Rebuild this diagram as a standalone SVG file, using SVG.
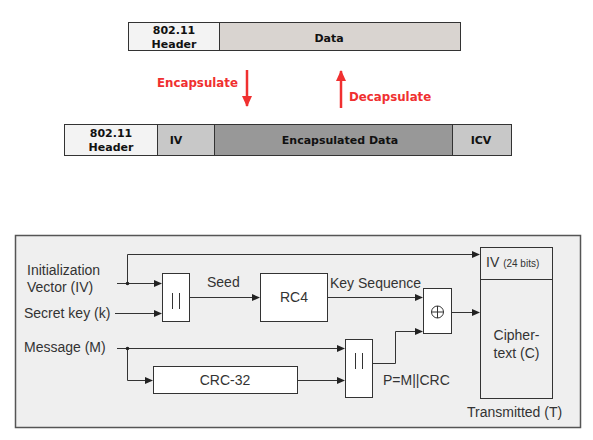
<svg xmlns="http://www.w3.org/2000/svg" width="593" height="440" viewBox="0 0 593 440">
<defs>
<style>
.hb{font-family:"DejaVu Sans",sans-serif;font-weight:bold;font-size:11px;fill:#111;text-anchor:middle}
.red{font-family:"DejaVu Sans",sans-serif;font-weight:bold;font-size:11.8px;fill:#f03030}
.t{font-family:"Liberation Sans",Arial,sans-serif;font-size:14px;fill:#333}
.box{stroke:#333;stroke-width:1}
.ln{stroke:#333;stroke-width:1;fill:none}
</style>
<marker id="ah" markerWidth="8" markerHeight="8" refX="7" refY="4" orient="auto" markerUnits="userSpaceOnUse">
<path d="M0,0.5 L8,4 L0,7.5 Z" fill="#222"/>
</marker>
<marker id="rah" markerWidth="12" markerHeight="12" refX="10" refY="5" orient="auto" markerUnits="userSpaceOnUse">
<path d="M0,0 L11,5 L0,10 Z" fill="#f03030"/>
</marker>
</defs>
<rect width="593" height="440" fill="#fff"/>

<g id="frame-top">
<rect x="128.5" y="22.5" width="91" height="28" fill="#f3f3f3" class="box"/>
<rect x="219.5" y="22.5" width="241" height="28" fill="#d9d4d0" class="box"/>
<text class="hb" x="174" y="34">802.11</text>
<text class="hb" x="174" y="48">Header</text>
<text class="hb" x="329" y="42">Data</text>
</g>

<g id="frame-bottom">
<rect x="64.5" y="124.5" width="93" height="31" fill="#f3f3f3" class="box"/>
<rect x="157.5" y="124.5" width="57" height="31" fill="#c8c8c8" class="box"/>
<rect x="214.5" y="124.5" width="238" height="31" fill="#989898" class="box"/>
<rect x="452.5" y="124.5" width="59" height="31" fill="#c8c8c8" class="box"/>
<text class="hb" x="111" y="137">802.11</text>
<text class="hb" x="111" y="151">Header</text>
<text class="hb" x="176" y="144">IV</text>
<text class="hb" x="340" y="144">Encapsulated Data</text>
<text class="hb" x="481" y="144">ICV</text>
</g>

<g id="red-arrows">
<line x1="247" y1="70" x2="247" y2="106" stroke="#f03030" stroke-width="2.5" marker-end="url(#rah)"/>
<line x1="341" y1="108" x2="341" y2="71" stroke="#f03030" stroke-width="2.5" marker-end="url(#rah)"/>
<text class="red" x="157" y="87">Encapsulate</text>
<text class="red" x="349" y="101">Decapsulate</text>
</g>

<rect id="panel" x="15.5" y="235.5" width="565" height="192" fill="#efefef" stroke="#555" stroke-width="1.5"/>

<g id="labels">
<text class="t" x="27" y="275">Initialization</text>
<text class="t" x="27" y="292">Vector (IV)</text>
<text class="t" x="24" y="318">Secret key (k)</text>
<text class="t" x="24" y="352">Message (M)</text>
<text class="t" x="207" y="287">Seed</text>
<text class="t" x="330" y="288">Key Sequence</text>
<text class="t" x="383" y="385">P=M||CRC</text>
<text class="t" x="467" y="417">Transmitted (T)</text>
</g>

<g id="concat1">
<rect x="162.5" y="273.5" width="27" height="48" fill="#fff" class="box"/>
<line x1="172.5" y1="293" x2="172.5" y2="309" class="ln"/>
<line x1="179.5" y1="293" x2="179.5" y2="309" class="ln"/>
</g>

<g id="rc4">
<rect x="260.5" y="273.5" width="67" height="48" fill="#fff" class="box"/>
<text class="t" x="294" y="302" text-anchor="middle">RC4</text>
</g>

<g id="xor">
<rect x="423.5" y="288.5" width="28" height="45" fill="#fff" class="box"/>
<circle cx="437.5" cy="312" r="6" fill="none" stroke="#333" stroke-width="1"/>
<line x1="431.5" y1="312" x2="443.5" y2="312" class="ln"/>
<line x1="437.5" y1="306" x2="437.5" y2="318" class="ln"/>
</g>

<g id="crc32">
<rect x="153.5" y="366.5" width="144" height="27" fill="#fff" class="box"/>
<text class="t" x="225" y="385" text-anchor="middle">CRC-32</text>
</g>

<g id="concat2">
<rect x="345.5" y="339.5" width="27" height="58" fill="#fff" class="box"/>
<line x1="355.5" y1="353" x2="355.5" y2="369" class="ln"/>
<line x1="362.5" y1="353" x2="362.5" y2="369" class="ln"/>
</g>

<g id="transmitted">
<rect x="480.5" y="247.5" width="72" height="151" fill="#efefef" class="box"/>
<line x1="480.5" y1="279.5" x2="552.5" y2="279.5" class="ln"/>
<text class="t" x="486" y="267">IV <tspan font-size="10">(24 bits)</tspan></text>
<text class="t" x="516.5" y="340" text-anchor="middle">Cipher-</text>
<text class="t" x="516.5" y="358" text-anchor="middle">text (C)</text>
</g>

<g id="connectors">
<path d="M117,283.5 H161" class="ln" marker-end="url(#ah)"/>
<path d="M127.5,283.5 V254.5 H479" class="ln" marker-end="url(#ah)"/>
<circle cx="127.5" cy="283.5" r="1.8" fill="#222"/>
<path d="M115,313.5 H161" class="ln" marker-end="url(#ah)"/>
<path d="M190,297.5 H259" class="ln" marker-end="url(#ah)"/>
<path d="M328,297.5 H422" class="ln" marker-end="url(#ah)"/>
<path d="M452,312.5 H479" class="ln" stroke-width="1.5" marker-end="url(#ah)"/>
<path d="M117,348.5 H344" class="ln" marker-end="url(#ah)"/>
<path d="M127.5,348.5 V380.5 H152" class="ln" marker-end="url(#ah)"/>
<circle cx="127.5" cy="348.5" r="1.8" fill="#222"/>
<path d="M298,380.5 H344" class="ln" marker-end="url(#ah)"/>
<path d="M373,363.5 H395.5 V331.5 H422" class="ln" marker-end="url(#ah)"/>
</g>
</svg>
